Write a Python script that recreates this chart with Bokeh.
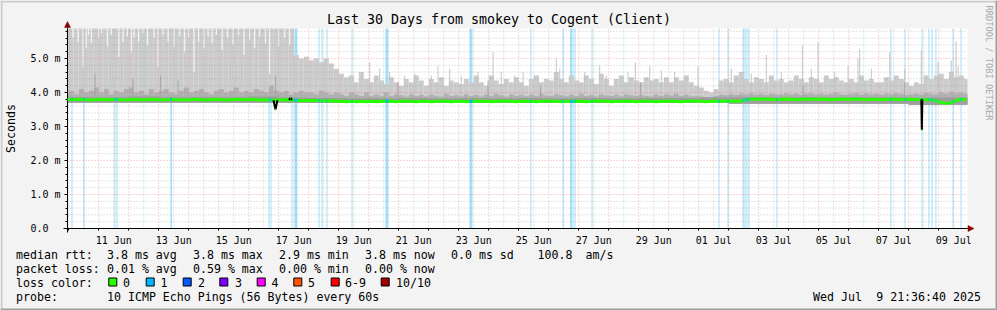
import numpy as np
import pandas as pd
from bokeh.plotting import figure
from bokeh.models import (FixedTicker, DatetimeTickFormatter, Range1d,
                          Label, BoxAnnotation, Arrow, NormalHead)
from bokeh.embed import file_html
from bokeh.resources import INLINE

MONO = "DejaVu Sans Mono"

# ---------------------------------------------------------------- data
title_text = "Last 30 Days from smokey to Cogent (Client)"
y_title = "Seconds"
watermark = "RRDTOOL / TOBI OETIKER"
x_start = "2025-06-09 22:57:36"
x_end = "2025-07-09 22:57:36"
y_top_ms = 5.882
slot_first = "2025-06-09 20:00"      # 4-hour consolidation slots
slot_hours = 4

# upper edge of the smoke (ms), one value per 4 h slot (6.0 = beyond the top)
smoke_max = [
    6.0,
    6.0, 6.0, 6.0, 6.0, 6.0, 6.0,
    6.0, 6.0, 6.0, 6.0, 6.0, 6.0,
    6.0, 6.0, 6.0, 6.0, 6.0, 6.0,
    6.0, 6.0, 6.0, 6.0, 6.0, 6.0,
    6.0, 6.0, 6.0, 6.0, 6.0, 6.0,
    6.0, 6.0, 6.0, 6.0, 6.0, 6.0,
    6.0, 6.0, 6.0, 6.0, 6.0, 6.0,
    6.0, 6.0, 6.0, 5.1, 5.0, 5.05,
    4.95, 5.0, 4.9, 5.0, 4.85, 4.7,
    4.55, 4.45, 4.5, 4.3, 4.6, 4.4,
    4.3, 4.5, 4.35, 4.25, 4.45, 4.3,
    4.2, 4.4, 4.3, 4.5, 4.35, 4.2,
    4.4, 4.3, 4.45, 4.2, 4.35, 4.3,
    4.25, 4.4, 4.3, 4.5, 4.3, 4.2,
    4.5, 4.35, 4.25, 4.4, 4.3, 4.45,
    4.3, 4.2, 4.4, 4.5, 4.3, 4.4,
    4.35, 4.6, 4.4, 4.3, 4.5, 4.35,
    4.3, 4.5, 4.4, 4.25, 4.55, 4.4,
    4.2, 4.4, 4.5, 4.3, 4.45, 4.35,
    4.3, 4.45, 4.35, 4.4, 4.3, 4.45,
    4.3, 4.45, 4.35, 4.5, 4.3, 4.2,
    4.15, 4.05, 4.0, 4.1, 4.35, 4.4,
    4.3, 4.5, 4.6, 4.4, 4.3, 4.45,
    4.4, 4.3, 4.5, 4.35, 4.4, 4.3,
    4.35, 4.5, 4.4, 4.3, 4.45, 4.4,
    4.3, 4.5, 4.4, 4.45, 4.35, 4.3,
    4.4, 4.3, 4.5, 4.35, 4.4, 4.3,
    4.3, 4.45, 4.35, 4.5, 4.4, 4.3,
    4.2, 4.3, 4.25, 4.5, 4.4, 4.5,
    4.55, 4.4, 4.6, 4.45, 4.5, 4.4,
]

# upper edge of the darker inner smoke (ms), per 4 h slot
smoke_mid = [
    4.0,
    4.05, 3.95, 4.1, 4.0, 4.05, 4.15,
    4.0, 4.1, 3.95, 4.05, 4.0, 4.1,
    4.15, 4.0, 4.05, 3.95, 4.1, 4.0,
    4.05, 4.1, 4.0, 3.95, 4.05, 4.15,
    4.0, 4.05, 4.1, 4.0, 3.95, 4.05,
    4.1, 4.0, 4.05, 4.15, 4.0, 4.05,
    4.0, 4.1, 4.05, 4.0, 4.2, 4.05,
    4.0, 4.05, 3.95, 4.0, 4.05, 4.0,
    4.0, 3.95, 4.05, 4.0, 3.95, 4.0,
    3.95, 3.9, 4.0, 3.95, 3.9, 4.0,
    3.9, 3.95, 3.9, 4.0, 3.9, 3.95,
    3.92, 3.88, 3.95, 3.9, 3.93, 3.89,
    3.94, 3.9, 3.88, 3.96, 3.9, 3.92,
    3.89, 3.95, 3.9, 3.93, 3.88, 3.94,
    3.9, 3.96, 3.92, 3.88, 3.95, 3.9,
    3.93, 3.89, 3.94, 3.9, 3.96, 3.91,
    3.9, 3.95, 3.92, 3.89, 3.94, 3.9,
    3.96, 3.9, 3.93, 3.88, 3.95, 3.91,
    3.9, 3.94, 3.89, 3.95, 3.92, 3.9,
    3.93, 3.9, 3.88, 3.94, 3.9, 3.95,
    3.91, 3.96, 3.9, 3.93, 3.89, 3.9,
    3.88, 3.87, 3.86, 3.9, 3.94, 3.92,
    3.95, 3.93, 3.97, 3.95, 3.98, 3.94,
    3.96, 3.93, 3.97, 3.95, 3.94, 3.98,
    3.95, 3.97, 3.93, 3.96, 3.98, 3.94,
    3.97, 3.94, 3.96, 3.99, 3.95, 3.93,
    3.96, 3.98, 3.94, 3.97, 3.95, 3.96,
    3.94, 3.97, 3.95, 3.98, 3.96, 3.93,
    3.95, 3.97, 3.94, 3.99, 3.96, 3.95,
    4.0, 3.97, 4.02, 3.98, 4.0, 3.97,
]

# per day (Jun 9 .. Jul 9): dark core top and smoke bottom (ms)
smoke_core = [3.86, 3.87, 3.86, 3.88, 3.86, 3.87, 3.86, 3.88, 3.85, 3.84, 3.83,
              3.83, 3.84, 3.83, 3.84, 3.83, 3.84, 3.83, 3.84, 3.83, 3.84, 3.84,
              3.86, 3.87, 3.86, 3.87, 3.86, 3.87, 3.86, 3.85, 3.85]
smoke_min = [3.70, 3.70, 3.70, 3.70, 3.70, 3.70, 3.70, 3.70, 3.70,
             3.69, 3.69, 3.69, 3.69, 3.69, 3.69, 3.69, 3.69, 3.69, 3.69, 3.69,
             3.69, 3.69, 3.69, 3.67, 3.67, 3.67, 3.67, 3.67, 3.67, 3.63, 3.64]

# median rtt (ms), per 4 h slot
median_rtt = [
    3.79,
    3.80, 3.79, 3.80, 3.79, 3.78, 3.79,
    3.80, 3.79, 3.79, 3.80, 3.78, 3.79,
    3.79, 3.80, 3.78, 3.79, 3.80, 3.79,
    3.78, 3.79, 3.80, 3.79, 3.79, 3.78,
    3.79, 3.80, 3.79, 3.78, 3.79, 3.80,
    3.79, 3.78, 3.79, 3.80, 3.79, 3.79,
    3.80, 3.79, 3.78, 3.79, 3.78, 3.77,
    3.78, 3.79, 3.78, 3.77, 3.76, 3.77,
    3.76, 3.77, 3.76, 3.75, 3.76, 3.75,
    3.74, 3.73, 3.74, 3.73, 3.74, 3.73,
    3.74, 3.73, 3.74, 3.75, 3.74, 3.73,
    3.74, 3.75, 3.74, 3.73, 3.74, 3.74,
    3.73, 3.74, 3.75, 3.74, 3.73, 3.74,
    3.74, 3.73, 3.74, 3.74, 3.75, 3.74,
    3.73, 3.74, 3.74, 3.75, 3.74, 3.73,
    3.74, 3.75, 3.74, 3.73, 3.74, 3.74,
    3.75, 3.74, 3.73, 3.74, 3.74, 3.75,
    3.74, 3.73, 3.74, 3.75, 3.74, 3.74,
    3.73, 3.74, 3.74, 3.75, 3.74, 3.73,
    3.74, 3.75, 3.74, 3.73, 3.74, 3.74,
    3.75, 3.74, 3.73, 3.74, 3.75, 3.74,
    3.74, 3.73, 3.74, 3.74, 3.75, 3.74,
    3.75, 3.74, 3.75, 3.79, 3.80, 3.81,
    3.80, 3.81, 3.80, 3.79, 3.80, 3.81,
    3.80, 3.79, 3.80, 3.81, 3.80, 3.80,
    3.81, 3.80, 3.79, 3.80, 3.81, 3.80,
    3.80, 3.81, 3.80, 3.79, 3.80, 3.80,
    3.79, 3.80, 3.81, 3.80, 3.79, 3.80,
    3.80, 3.79, 3.80, 3.78, 3.79, 3.76,
    3.70, 3.68, 3.70, 3.77, 3.80, 3.79,
]

# narrow white gaps in the saturated smoke (one pixel column each)
gap_times = ["2025-06-10 03:00", "2025-06-10 07:00", "2025-06-10 11:00", "2025-06-10 13:35",
             "2025-06-10 15:30", "2025-06-10 17:35", "2025-06-10 23:30", "2025-06-11 01:35",
             "2025-06-11 06:25", "2025-06-11 09:35", "2025-06-11 15:45", "2025-06-11 19:00",
             "2025-06-11 22:25", "2025-06-12 01:35", "2025-06-12 03:50", "2025-06-12 07:30",
             "2025-06-12 11:00", "2025-06-12 14:25", "2025-06-12 19:50", "2025-06-12 23:00",
             "2025-06-13 03:00", "2025-06-13 07:00", "2025-06-13 11:45", "2025-06-13 16:20",
             "2025-06-13 20:20", "2025-06-13 23:30", "2025-06-14 03:45", "2025-06-14 07:30",
             "2025-06-14 11:45", "2025-06-14 15:00", "2025-06-14 18:10", "2025-06-14 21:35",
             "2025-06-15 02:10", "2025-06-15 06:25", "2025-06-15 11:00", "2025-06-15 15:30",
             "2025-06-15 19:45", "2025-06-16 00:20", "2025-06-16 04:20", "2025-06-16 08:20",
             "2025-06-16 12:50", "2025-06-16 16:20", "2025-06-16 23:30", "2025-06-17 04:20",
             "2025-06-17 08:20"]
gap_values = [5.6, 5.5, 4.75, 5.3, 5.7, 5.45, 5.6, 5.75, 5.35, 5.7, 5.05, 5.5,
              5.65, 5.2, 5.6, 5.5, 5.75, 5.4, 5.6, 4.75, 5.7, 5.5, 5.35, 5.65,
              5.2, 5.6, 4.6, 5.5, 5.3, 5.65, 5.45, 5.7, 5.25, 5.6, 5.4, 5.7,
              5.1, 5.55, 5.3, 5.65, 5.45, 4.55, 5.35, 5.6, 5.4]

# single thin smoke spikes
spike_times = ["2025-06-20 00:20", "2025-06-20 08:20", "2025-06-20 16:20", "2025-06-21 04:20",
               "2025-06-21 12:20", "2025-06-22 01:35", "2025-06-22 07:00", "2025-06-22 16:20",
               "2025-06-23 01:35", "2025-06-23 15:00", "2025-06-24 03:00", "2025-06-24 09:35",
               "2025-06-24 20:20", "2025-06-25 03:00", "2025-06-25 15:00", "2025-06-26 05:35",
               "2025-06-26 08:20", "2025-06-27 04:20", "2025-06-27 16:20", "2025-06-27 21:35",
               "2025-06-28 15:00", "2025-06-28 20:50", "2025-06-29 08:20", "2025-06-29 17:35",
               "2025-06-30 04:20", "2025-06-30 23:00", "2025-07-02 01:35", "2025-07-02 17:35",
               "2025-07-03 05:35", "2025-07-03 17:35", "2025-07-04 10:25", "2025-07-04 17:35",
               "2025-07-04 23:00", "2025-07-05 12:20", "2025-07-05 23:00", "2025-07-06 07:00",
               "2025-07-06 08:20", "2025-07-06 17:35", "2025-07-07 08:20", "2025-07-07 20:20",
               "2025-07-08 09:35", "2025-07-08 23:00", "2025-07-09 09:35", "2025-07-09 13:25",
               "2025-07-09 15:00"]
spike_values = [4.89, 4.70, 4.60, 4.50, 4.55, 4.50, 4.79, 4.70, 4.50, 4.60, 5.18, 4.60,
                4.50, 4.60, 4.50, 4.99, 4.70, 4.60, 4.79, 4.50, 4.60, 4.89, 4.79, 4.65,
                4.60, 4.79, 4.70, 4.55, 5.10, 4.60, 5.38, 4.70, 5.48, 4.60, 4.79, 4.99,
                5.28, 4.70, 5.18, 4.70, 5.23, 4.89, 4.94, 5.50, 4.79]

# darker inner-smoke spikes
mid_spike_times = ["2025-06-10 20:30", "2025-06-12 03:00", "2025-06-13 01:00", "2025-06-13 15:00",
                   "2025-06-16 21:00", "2025-06-20 23:00", "2025-06-23 23:00", "2025-06-25 17:00",
                   "2025-06-29 01:00", "2025-07-04 11:00", "2025-07-07 20:00"]
mid_spike_values = [4.55, 4.4, 4.5, 4.35, 4.5, 4.3, 4.35, 4.2, 4.3, 4.2, 4.3]

# packet loss events (1 of 10 lost), start time and duration in hours
loss_times = ["2025-06-10 02:10", "2025-06-10 11:45", "2025-06-11 12:30", "2025-06-11 14:10",
              "2025-06-13 09:20", "2025-06-16 15:45", "2025-06-16 17:20", "2025-06-17 10:10",
              "2025-06-17 12:30", "2025-06-18 07:45", "2025-06-18 10:10", "2025-06-18 14:10",
              "2025-06-19 10:10", "2025-06-20 13:20", "2025-06-23 08:30", "2025-06-25 09:20",
              "2025-06-26 11:00", "2025-06-26 17:00", "2025-06-26 19:00", "2025-06-26 20:35",
              "2025-06-27 10:10", "2025-07-01 15:45", "2025-07-01 23:00", "2025-07-02 11:00",
              "2025-07-02 12:35", "2025-07-02 14:10", "2025-07-02 15:45", "2025-07-03 14:10",
              "2025-07-07 09:20", "2025-07-07 20:35", "2025-07-08 10:10", "2025-07-08 15:45",
              "2025-07-08 18:10", "2025-07-08 21:20", "2025-07-09 11:00", "2025-07-09 17:20"]
loss_hours = [0.8, 0.8, 0.8, 0.8, 1.2, 0.8, 0.8, 0.8, 2.4, 0.8, 0.8, 0.8, 0.8, 2.4, 2.4, 0.8,
              0.8, 1.6, 0.8, 0.8, 0.8, 0.8, 0.8, 0.8, 0.8, 0.8, 0.8, 0.8, 0.8, 0.8, 0.8, 0.8,
              0.8, 0.8, 0.8, 0.8]

# sudden median excursions (drawn black with green tip)
dip_times = ["2025-06-16 21:20", "2025-06-17 09:20", "2025-07-08 10:25"]
dip_values = [3.50, 3.84, 2.90]
dip_half_width_h = [1.6, 1.2, 0.4]

x_label_days = ["2025-06-11", "2025-06-13", "2025-06-15", "2025-06-17", "2025-06-19",
                "2025-06-21", "2025-06-23", "2025-06-25", "2025-06-27", "2025-06-29",
                "2025-07-01", "2025-07-03", "2025-07-05", "2025-07-07", "2025-07-09"]
y_ticks = [0, 1, 2, 3, 4, 5]
y_tick_labels = ["0.0\u00a0\u00a0", "1.0 m", "2.0 m", "3.0 m", "4.0 m", "5.0 m"]

legend_rows = [
    ["median rtt:", "3.8 ms avg", "3.8 ms max", "2.9 ms min", "3.8 ms now", "0.0 ms sd", "100.8", "am/s"],
    ["packet loss:", "0.01 % avg", "0.59 % max", "0.00 % min", "0.00 % now"],
    ["probe:", "10 ICMP Echo Pings (56 Bytes) every 60s"],
]
loss_color_title = "loss color:"
loss_labels = ["0", "1", "2", "3", "4", "5", "6-9", "10/10"]
loss_colors = ["#26ff00", "#00b8ff", "#0059ff", "#7e00ff", "#ff00ff", "#ff5500", "#ff0000", "#a10000"]
stamp_parts = ["Wed Jul", "9 21:36:40 2025"]

# ---------------------------------------------------------------- geometry
HOUR = 3600 * 1000.0


def ms(s):
    return pd.Timestamp(s).value / 1e6


def ms_list(lst):
    return np.array([ms(s) for s in lst])


W, H = 997, 310
PL, PR, PT, PB = 67, 967, 28, 228          # canvas pixels of the graph area
x0, x1 = ms(x_start), ms(x_end)
XPX = (x1 - x0) / (PR - PL)                 # ms of time per pixel
YPX = y_top_ms / (PB - PT)                  # rtt ms per pixel

# the frame covers the whole canvas; the graph area sits inside it
p = figure(width=W, height=H, output_backend="svg", toolbar_location=None,
           x_axis_type="datetime",
           x_range=Range1d(x0 - PL * XPX, x1 + (W - PR) * XPX),
           y_range=Range1d(-(H - PB) * YPX, y_top_ms + PT * YPX),
           min_border=0)
p.background_fill_color = "#f3f3f3"
p.border_fill_color = "#f3f3f3"
p.outline_line_color = None
p.xgrid.visible = False
p.ygrid.visible = False

# white canvas of the graph
p.quad(left=[x0], right=[x1], bottom=[0], top=[y_top_ms], fill_color="white",
       line_color=None, level="image")

n = len(smoke_max)
slot_left = pd.date_range(slot_first, periods=n, freq=f"{slot_hours}h").values.astype("datetime64[ms]").astype(float)
slot_right = slot_left + slot_hours * HOUR
sl = np.clip(slot_left, x0, x1)
sr = np.clip(slot_right, x0, x1)
day_idx = (np.arange(n) + 5) // 6
s_min = np.array(smoke_min)[day_idx]
s_core = np.array(smoke_core)[day_idx]


def cap(v):
    return np.minimum(np.asarray(v, dtype=float), y_top_ms)


# loss background bands
lt = ms_list(loss_times)
lw = np.array(loss_hours) * HOUR
p.quad(left=lt, right=np.minimum(lt + lw, x1), bottom=0, top=y_top_ms,
       fill_color="#a3e0f8", line_color=None, level="underlay")

# smoke layers
p.quad(left=sl, right=sr, bottom=s_min, top=cap(smoke_max),
       fill_color="#cccccc", line_color=None, level="underlay")
st = ms_list(spike_times)
p.quad(left=st, right=st + 0.8 * HOUR, bottom=3.7, top=cap(spike_values),
       fill_color="#c6c6c6", line_color=None, level="underlay")
gt = ms_list(gap_times)
p.quad(left=gt, right=gt + 0.8 * HOUR, bottom=gap_values, top=y_top_ms,
       fill_color="white", line_color=None, level="underlay")
p.quad(left=sl, right=sr, bottom=s_min, top=cap(smoke_mid),
       fill_color="#b0b0b0", line_color=None, level="underlay")
mt = ms_list(mid_spike_times)
p.quad(left=mt, right=mt + 0.8 * HOUR, bottom=3.7, top=mid_spike_values,
       fill_color="#a6a6a6", line_color=None, level="underlay")
p.quad(left=sl, right=sr, bottom=s_min, top=s_core,
       fill_color="#9e9e9e", line_color=None, level="underlay")

# grid lines over the smoke, limited to the graph area
midnights = pd.date_range("2025-06-10", "2025-07-09", freq="D")
mid_ms = np.array([ms(t) for t in midnights])
noon_ms = mid_ms + 12 * HOUR
y_major = np.array(y_ticks[1:], dtype=float)
y_minor = np.array([round(0.2 * k, 1) for k in range(1, 30) if k % 5])
GRAY, RED = "#8a8a8a", "#f07070"
p.segment(x0=noon_ms, x1=noon_ms, y0=0, y1=y_top_ms, line_color=GRAY, line_alpha=0.45,
          line_dash="1 2", line_width=1, level="glyph")
p.segment(x0=x0, x1=x1, y0=y_minor, y1=y_minor, line_color=GRAY, line_alpha=0.45,
          line_dash="1 2", line_width=1, level="glyph")
p.segment(x0=mid_ms, x1=mid_ms, y0=0, y1=y_top_ms, line_color=RED, line_alpha=0.6,
          line_dash="1 2", line_width=1, level="glyph")
p.segment(x0=x0, x1=x1, y0=y_major, y1=y_major, line_color=RED, line_alpha=0.6,
          line_dash="1 2", line_width=1, level="glyph")

# median line and loss colouring
centers = slot_left + slot_hours * HOUR / 2
mx = np.clip(centers, x0, x1)
p.line(mx, median_rtt, line_color="#26ff00", line_width=3, level="annotation")
lm = np.interp(lt + lw / 2, centers, median_rtt)
p.segment(x0=lt, x1=np.minimum(lt + lw, x1), y0=lm, y1=lm, line_color="#00b8ff",
          line_width=3, level="annotation")
dt = ms_list(dip_times)
dw = np.array(dip_half_width_h) * HOUR
dbase = np.interp(dt, centers, median_rtt)
p.multi_line(xs=[[a - w, a, a + w] for a, w in zip(dt, dw)],
             ys=[[b, v, b] for b, v in zip(dbase, dip_values)],
             line_color="black", line_width=2, level="annotation")
p.segment(x0=dt - 0.3 * HOUR, x1=dt + 0.3 * HOUR, y0=dip_values, y1=dip_values,
          line_color="#26ff00", line_width=2, level="annotation")

# axes, fixed at the graph's origin
p.xaxis.fixed_location = 0
p.yaxis.fixed_location = x0
p.xaxis.bounds = (x0 - 4 * XPX, x1)
p.yaxis.bounds = (-4 * YPX, y_top_ms)
p.xaxis.ticker = FixedTicker(ticks=[ms(d) + 12 * HOUR for d in x_label_days], minor_ticks=list(mid_ms))
fmt = "%d %b"
p.xaxis.formatter = DatetimeTickFormatter(microseconds=fmt, milliseconds=fmt, seconds=fmt, minsec=fmt,
                                          minutes=fmt, hourmin=fmt, hours=fmt, days=fmt,
                                          months=fmt, years=fmt)
p.yaxis.ticker = FixedTicker(ticks=y_ticks, minor_ticks=[round(0.2 * k, 1) for k in range(30)])
p.yaxis.major_label_overrides = {t: s for t, s in zip(y_ticks, y_tick_labels)}
for ax in (p.xaxis, p.yaxis):
    ax.axis_line_color = "black"
    ax.major_label_text_font = MONO
    ax.major_label_text_font_size = "10px"
    ax.major_label_text_color = "black"
    ax.major_tick_line_color = "black"
    ax.minor_tick_line_color = "black"
    ax.major_tick_in = 0
    ax.minor_tick_in = 0
p.xaxis.major_tick_out = 0
p.xaxis.minor_tick_out = 2
p.xaxis.major_label_standoff = 4
p.yaxis.major_tick_out = 3
p.yaxis.minor_tick_out = 2
p.yaxis.major_label_standoff = 4

# arrow heads at the axis ends
DARKRED = "#8b0000"
p.add_layout(Arrow(end=NormalHead(size=6, fill_color=DARKRED, line_color=DARKRED, line_width=0.5),
                   x_start=x1, y_start=0, x_end=x1 + 6.5 * XPX, y_end=0, line_color="black"))
p.add_layout(Arrow(end=NormalHead(size=6, fill_color=DARKRED, line_color=DARKRED, line_width=0.5),
                   x_start=x0, y_start=y_top_ms, x_end=x0, y_end=y_top_ms + 7 * YPX,
                   line_color="black"))


# ---------------------------------------------------------------- texts (canvas px -> screen units)
def text(t, cx, cy, size="11.6px", align="left", angle=0.0, color="black"):
    p.add_layout(Label(x=cx, y=H - cy, x_units="screen", y_units="screen",
                       text=t, text_font=MONO, text_font_size=size, text_align=align,
                       text_baseline="middle", angle=angle, text_color=color))


def box(cx0, cy0, cx1, cy1, color, line=None):
    p.add_layout(BoxAnnotation(left=cx0, right=cx1, top=H - cy0, bottom=H - cy1,
                               left_units="screen", right_units="screen",
                               top_units="screen", bottom_units="screen", fill_color=color,
                               fill_alpha=1, line_color=line if line else color,
                               line_alpha=1, line_width=1 if line else 0, level="overlay"))


text(title_text, 498.5, 19, size="13.3px", align="center")
text(y_title, 10, 128, align="center", angle=np.pi / 2)
text(watermark, 988, 5, size="8.7px", angle=-np.pi / 2, color="#a9a9a9")

row1_x = [15.5, 106.5, 192.5, 278.5, 364.5, 450.5, 537, 585]
row2_x = [15.5, 106.5, 192.5, 278.5, 364.5]
row4_x = [15.5, 106.5]
for s, x in zip(legend_rows[0], row1_x):
    text(s, x, 254)
for s, x in zip(legend_rows[1], row2_x):
    text(s, x, 268)
text(loss_color_title, 15.5, 282)
box_x = [108.3, 145.7, 182.7, 219.3, 256.7, 293.3, 330.7, 380.7]
lab_x = [122.5, 160, 197.5, 234.5, 271, 307.5, 344.5, 395.5]
for lab, col, bx, tx in zip(loss_labels, loss_colors, box_x, lab_x):
    box(bx, 277.5, bx + 8, 285.5, col, line="black")
    text(lab, tx, 282)
for s, x in zip(legend_rows[2], row4_x):
    text(s, x, 296)
text(stamp_parts[0], 812.5, 296)
text(stamp_parts[1], 875.7, 296)

# 3-D frame of the canvas
box(0, 0, W, 2, "#cbcbcb")
box(0, 0, 2, H, "#cbcbcb")
box(0, H - 2, W, H, "#9e9e9e")
box(W - 2, 0, W, H, "#9e9e9e")

open("out.html", "w").write(file_html(p, INLINE))
